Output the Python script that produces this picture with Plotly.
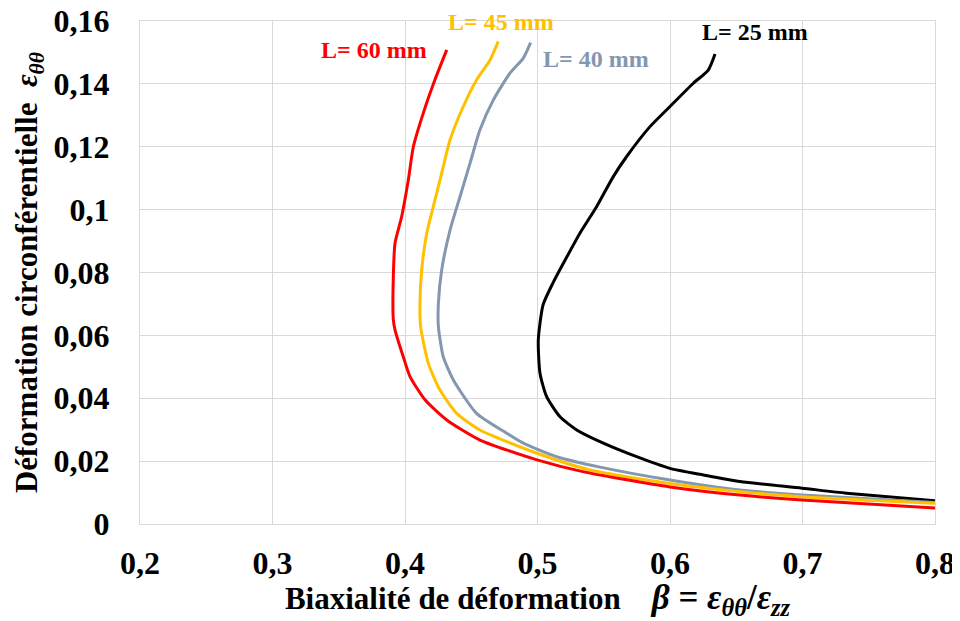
import plotly.graph_objects as go

# ---- data ----
beta_60 = [0.8, 0.6996, 0.6528, 0.6, 0.5358, 0.4996, 0.4566, 0.4315, 0.4151, 0.4038, 0.3987,
           0.3925, 0.3912, 0.3912, 0.3925, 0.3975, 0.4025, 0.4063, 0.4138, 0.4226, 0.4315]
eps_60 = [0.0051, 0.0076, 0.0092, 0.0118, 0.0165, 0.0204, 0.0267, 0.0331, 0.0395, 0.0469, 0.0532,
          0.0617, 0.0649, 0.0787, 0.0894, 0.0978, 0.1094, 0.1200, 0.1307, 0.1413, 0.1508]

beta_45 = [0.8, 0.6996, 0.6528, 0.6, 0.5396, 0.4996, 0.4566, 0.439, 0.4264, 0.4176, 0.4118,
           0.4113, 0.4126, 0.4164, 0.4214, 0.4277, 0.434, 0.444, 0.4541, 0.4642, 0.4704]
eps_45 = [0.0066, 0.0087, 0.0103, 0.0129, 0.0172, 0.0225, 0.0299, 0.0352, 0.0426, 0.0511, 0.0628,
          0.0702, 0.0808, 0.0925, 0.1010, 0.1116, 0.1222, 0.1328, 0.1413, 0.1476, 0.1535]

beta_40 = [0.8, 0.6996, 0.6528, 0.6, 0.5472, 0.5145, 0.4893, 0.4767, 0.454, 0.4365, 0.4289,
           0.4252, 0.4252, 0.4277, 0.434, 0.4415, 0.4491, 0.4566, 0.4667, 0.4792, 0.4893, 0.4948]
eps_40 = [0.0068, 0.0092, 0.0108, 0.0140, 0.0181, 0.0214, 0.0257, 0.0289, 0.0352, 0.0458, 0.0532,
          0.0628, 0.0702, 0.0808, 0.0935, 0.1041, 0.1148, 0.1254, 0.1349, 0.1434, 0.1482, 0.1531]

beta_25 = [0.8, 0.7333, 0.6996, 0.6528, 0.6252, 0.6, 0.5748, 0.5497, 0.5296, 0.517, 0.5069,
           0.5019, 0.5006, 0.5042, 0.5117, 0.5195, 0.532, 0.5447, 0.5572, 0.5673, 0.5849,
           0.6, 0.6176, 0.6289, 0.634]
eps_25 = [0.0074, 0.0098, 0.0114, 0.0135, 0.0156, 0.0177, 0.0214, 0.0257, 0.0299, 0.0341, 0.0405,
          0.0479, 0.0585, 0.0697, 0.0767, 0.0829, 0.0925, 0.1010, 0.1105, 0.1169, 0.1264,
          0.1328, 0.1402, 0.1444, 0.1495]

x_tickvals = [0.2, 0.3, 0.4, 0.5, 0.6, 0.7, 0.8]
x_ticktext = ["0,2", "0,3", "0,4", "0,5", "0,6", "0,7", "0,8"]
y_tickvals = [0, 0.02, 0.04, 0.06, 0.08, 0.1, 0.12, 0.14, 0.16]
y_ticktext = ["0", "0,02", "0,04", "0,06", "0,08", "0,1", "0,12", "0,14", "0,16"]

series = [
    ("L= 25 mm", beta_25, eps_25, "#000000"),
    ("L= 40 mm", beta_40, eps_40, "#8497B0"),
    ("L= 45 mm", beta_45, eps_45, "#FFC000"),
    ("L= 60 mm", beta_60, eps_60, "#FF0000"),
]

FONT = "Liberation Serif"

fig = go.Figure()
for name, xs, ys, col in series:
    fig.add_trace(go.Scatter(x=xs, y=ys, mode="lines", name=name,
                             line=dict(color=col, width=3, shape="spline", smoothing=0.6),
                             showlegend=False))

labels = [
    ("L= 60 mm", 0.3766, 0.1508, "#FF0000"),
    ("L= 45 mm", 0.4725, 0.1597, "#FFC000"),
    ("L= 40 mm", 0.5442, 0.1480, "#8497B0"),
    ("L= 25 mm", 0.6642, 0.1565, "#000000"),
]
for txt, x, y, col in labels:
    fig.add_annotation(x=x, y=y, text="<b>" + txt + "</b>", showarrow=False,
                       font=dict(family=FONT, size=24, color=col),
                       xanchor="center", yanchor="middle")

axis_common = dict(showgrid=True, gridcolor="#d9d9d9", gridwidth=1,
                   showline=True, linecolor="#d9d9d9", linewidth=1, mirror=True,
                   zeroline=False, ticks="", automargin=False,
                   ticklabeloverflow="allow",
                   tickfont=dict(family=FONT, size=32, color="#000000"))

x_title = ("<b>Biaxialité de déformation\u00a0\u00a0\u00a0\u00a0"
           "<span style='font-size:35px'><i>β</i> = <i>ε<sub>θθ</sub></i>/<i>ε<sub>zz</sub></i></span></b>")

# page body has an 8px default margin: figure sized so it fills the 960x621 window
fig.update_layout(
    width=952, height=613,
    margin=dict(l=132, r=25, t=13, b=97),
    paper_bgcolor="white", plot_bgcolor="white",
    xaxis=dict(range=[0.2, 0.8], tickvals=x_tickvals, ticktext=[f"<b>{t}</b>" for t in x_ticktext],
               ticklabelstandoff=11,
               title=dict(text=x_title,
                          font=dict(family=FONT, size=31, color="#000000"), standoff=13),
               **axis_common),
    yaxis=dict(range=[0, 0.16], tickvals=y_tickvals, ticktext=[f"<b>{t}</b>" for t in y_ticktext],
               ticklabelstandoff=23,
               title=dict(text="<b>Déformation circonférentielle\u00a0\u00a0<i>ε<sub>θθ</sub></i></b>",
                          font=dict(family=FONT, size=31, color="#000000"), standoff=6),
               **axis_common),
)

fig.write_html("out.html")
